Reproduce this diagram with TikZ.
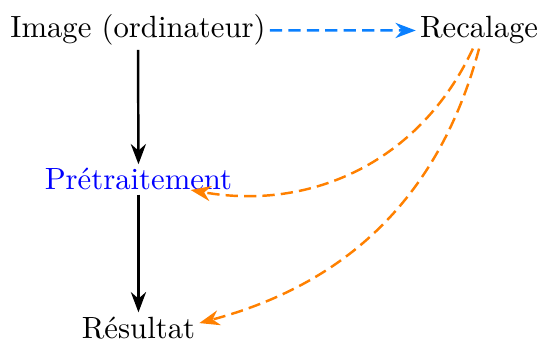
\documentclass[tikz,border=0pt]{standalone}
\usetikzlibrary{arrows.meta}
\definecolor{recalblue}{RGB}{10,128,255}
\definecolor{recalorange}{RGB}{255,128,0}

\begin{document}
\begin{tikzpicture}[thick,>={Stealth},
  etape/.style={anchor=base,inner sep=1pt},
  lien/.style={->,dash pattern=on 4pt off 2pt}]
  \useasboundingbox (0,0) rectangle (6.193,3.904);

  \node[etape] (image) at (1.58,3.469) {Image (ordinateur)};
  \node[etape] (recalage) at (5.484,3.469) {Recalage};
  \node[etape,text=blue] (pretraitement) at (1.585,1.729) {Prétraitement};
  \node[etape] (resultat) at (1.585,0.034) {Résultat};

  \draw[->] (image.south) -- (pretraitement.north);
  \draw[->] (pretraitement.south) -- (resultat.north);

  \draw[lien,recalblue] (image.east) -- (recalage.west);
  \draw[lien,recalorange] ([xshift=-2pt]recalage.south)
    to[out=-115,in=-10] ([xshift=17pt,yshift=1.5pt]pretraitement.south);
  \draw[lien,recalorange] (recalage.south)
    to[out=-105,in=15] ([yshift=1.5pt]resultat.east);
\end{tikzpicture}
\end{document}
